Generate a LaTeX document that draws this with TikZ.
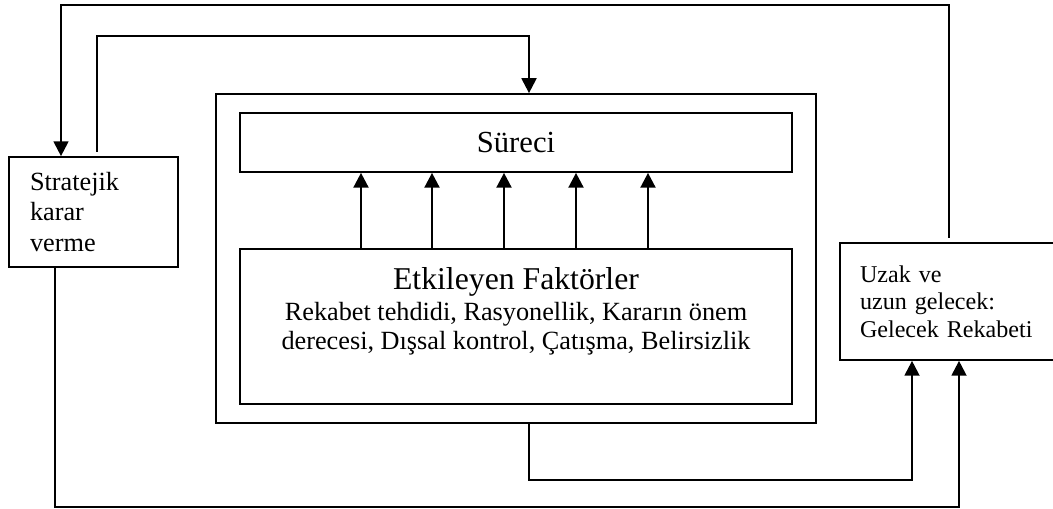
\documentclass[tikz,border=0pt]{standalone}
\usepackage{fontspec}
\setmainfont{Liberation Serif}
\usepackage{tikz}
\usetikzlibrary{arrows.meta,calc,positioning}

\tikzset{
  box/.style={draw,line width=0.75pt,inner sep=0pt},
  link/.style={line width=1pt},
  arr/.style={line width=1.2pt,-{Triangle[length=6.8pt,width=6.8pt]}}
}

\begin{document}
\begin{tikzpicture}[x=0.457pt,y=-0.457pt]
  \useasboundingbox (0,0) rectangle (1053,509);
  \clip (0,0) rectangle (1053,509);

  % boxes
  \node[box,minimum width=77.2pt,minimum height=50.3pt,text width=58pt,inner xsep=9.6pt,
        align=left,font=\fontsize{12}{13.9}\selectfont] (strat) at (93.5,212) {Stratejik\\karar\\verme};
  \node[box,minimum width=274.2pt,minimum height=150.4pt] (outer) at (516,258.5) {};
  \node[box,minimum width=252.3pt,minimum height=27pt,font=\fontsize{14}{16}\selectfont] (sureci) at (516,142.5) {Süreci};
  \node[box,minimum width=252.3pt,minimum height=70.8pt] (etk) at (516,326.5) {};
  \node[box,minimum width=118pt,minimum height=53.5pt,text width=99.6pt,inner xsep=9.2pt,
        align=left,font=\fontsize{11}{12.6}\selectfont] (uzak) at (969,301.5) {Uzak ve\\uzun gelecek:\\Gelecek Rekabeti};

  % text in the factors box
  \node[anchor=base,font=\fontsize{14.5}{16}\selectfont] (etktitle) at (516,290) {Etkileyen Faktörler};
  \node[anchor=base,align=center,font=\fontsize{12}{13.7}\selectfont] (etklist) at (516,350)
    {Rekabet tehdidi, Rasyonellik, Kararın önem\\derecesi, Dışsal kontrol, Çatışma, Belirsizlik};

  % factors -> process
  \foreach \x in {361,432,504,576,648} {
    \coordinate (f) at (\x,0);
    \draw[arr] (etk.north -| f) -- (sureci.south -| f);
  }

  % top loops
  \coordinate (topR) at (949,5);
  \coordinate (topL) at (61,5);
  \draw[link,-{Triangle[length=6.8pt,width=6.8pt]}] ([yshift=2pt]uzak.north -| topR) -- (topR) -- (topL) -- (strat.north -| topL);
  \coordinate (secL) at (97,36);
  \coordinate (secR) at (529,36);
  \draw[link,-{Triangle[length=6.8pt,width=6.8pt]}] ([yshift=2pt]strat.north -| secL) -- (secL) -- (secR) -- (outer.north -| secR);

  % bottom loops
  \coordinate (botL) at (529,480);
  \coordinate (botR) at (912,480);
  \draw[link,-{Triangle[length=6.8pt,width=6.8pt]}] (outer.south -| botL) -- (botL) -- (botR) -- (uzak.south -| botR);
  \coordinate (lowL) at (55,507);
  \coordinate (lowR) at (959,507);
  \draw[link,-{Triangle[length=6.8pt,width=6.8pt]}] (strat.south -| lowL) -- (lowL) -- (lowR) -- (uzak.south -| lowR);
\end{tikzpicture}
\end{document}
